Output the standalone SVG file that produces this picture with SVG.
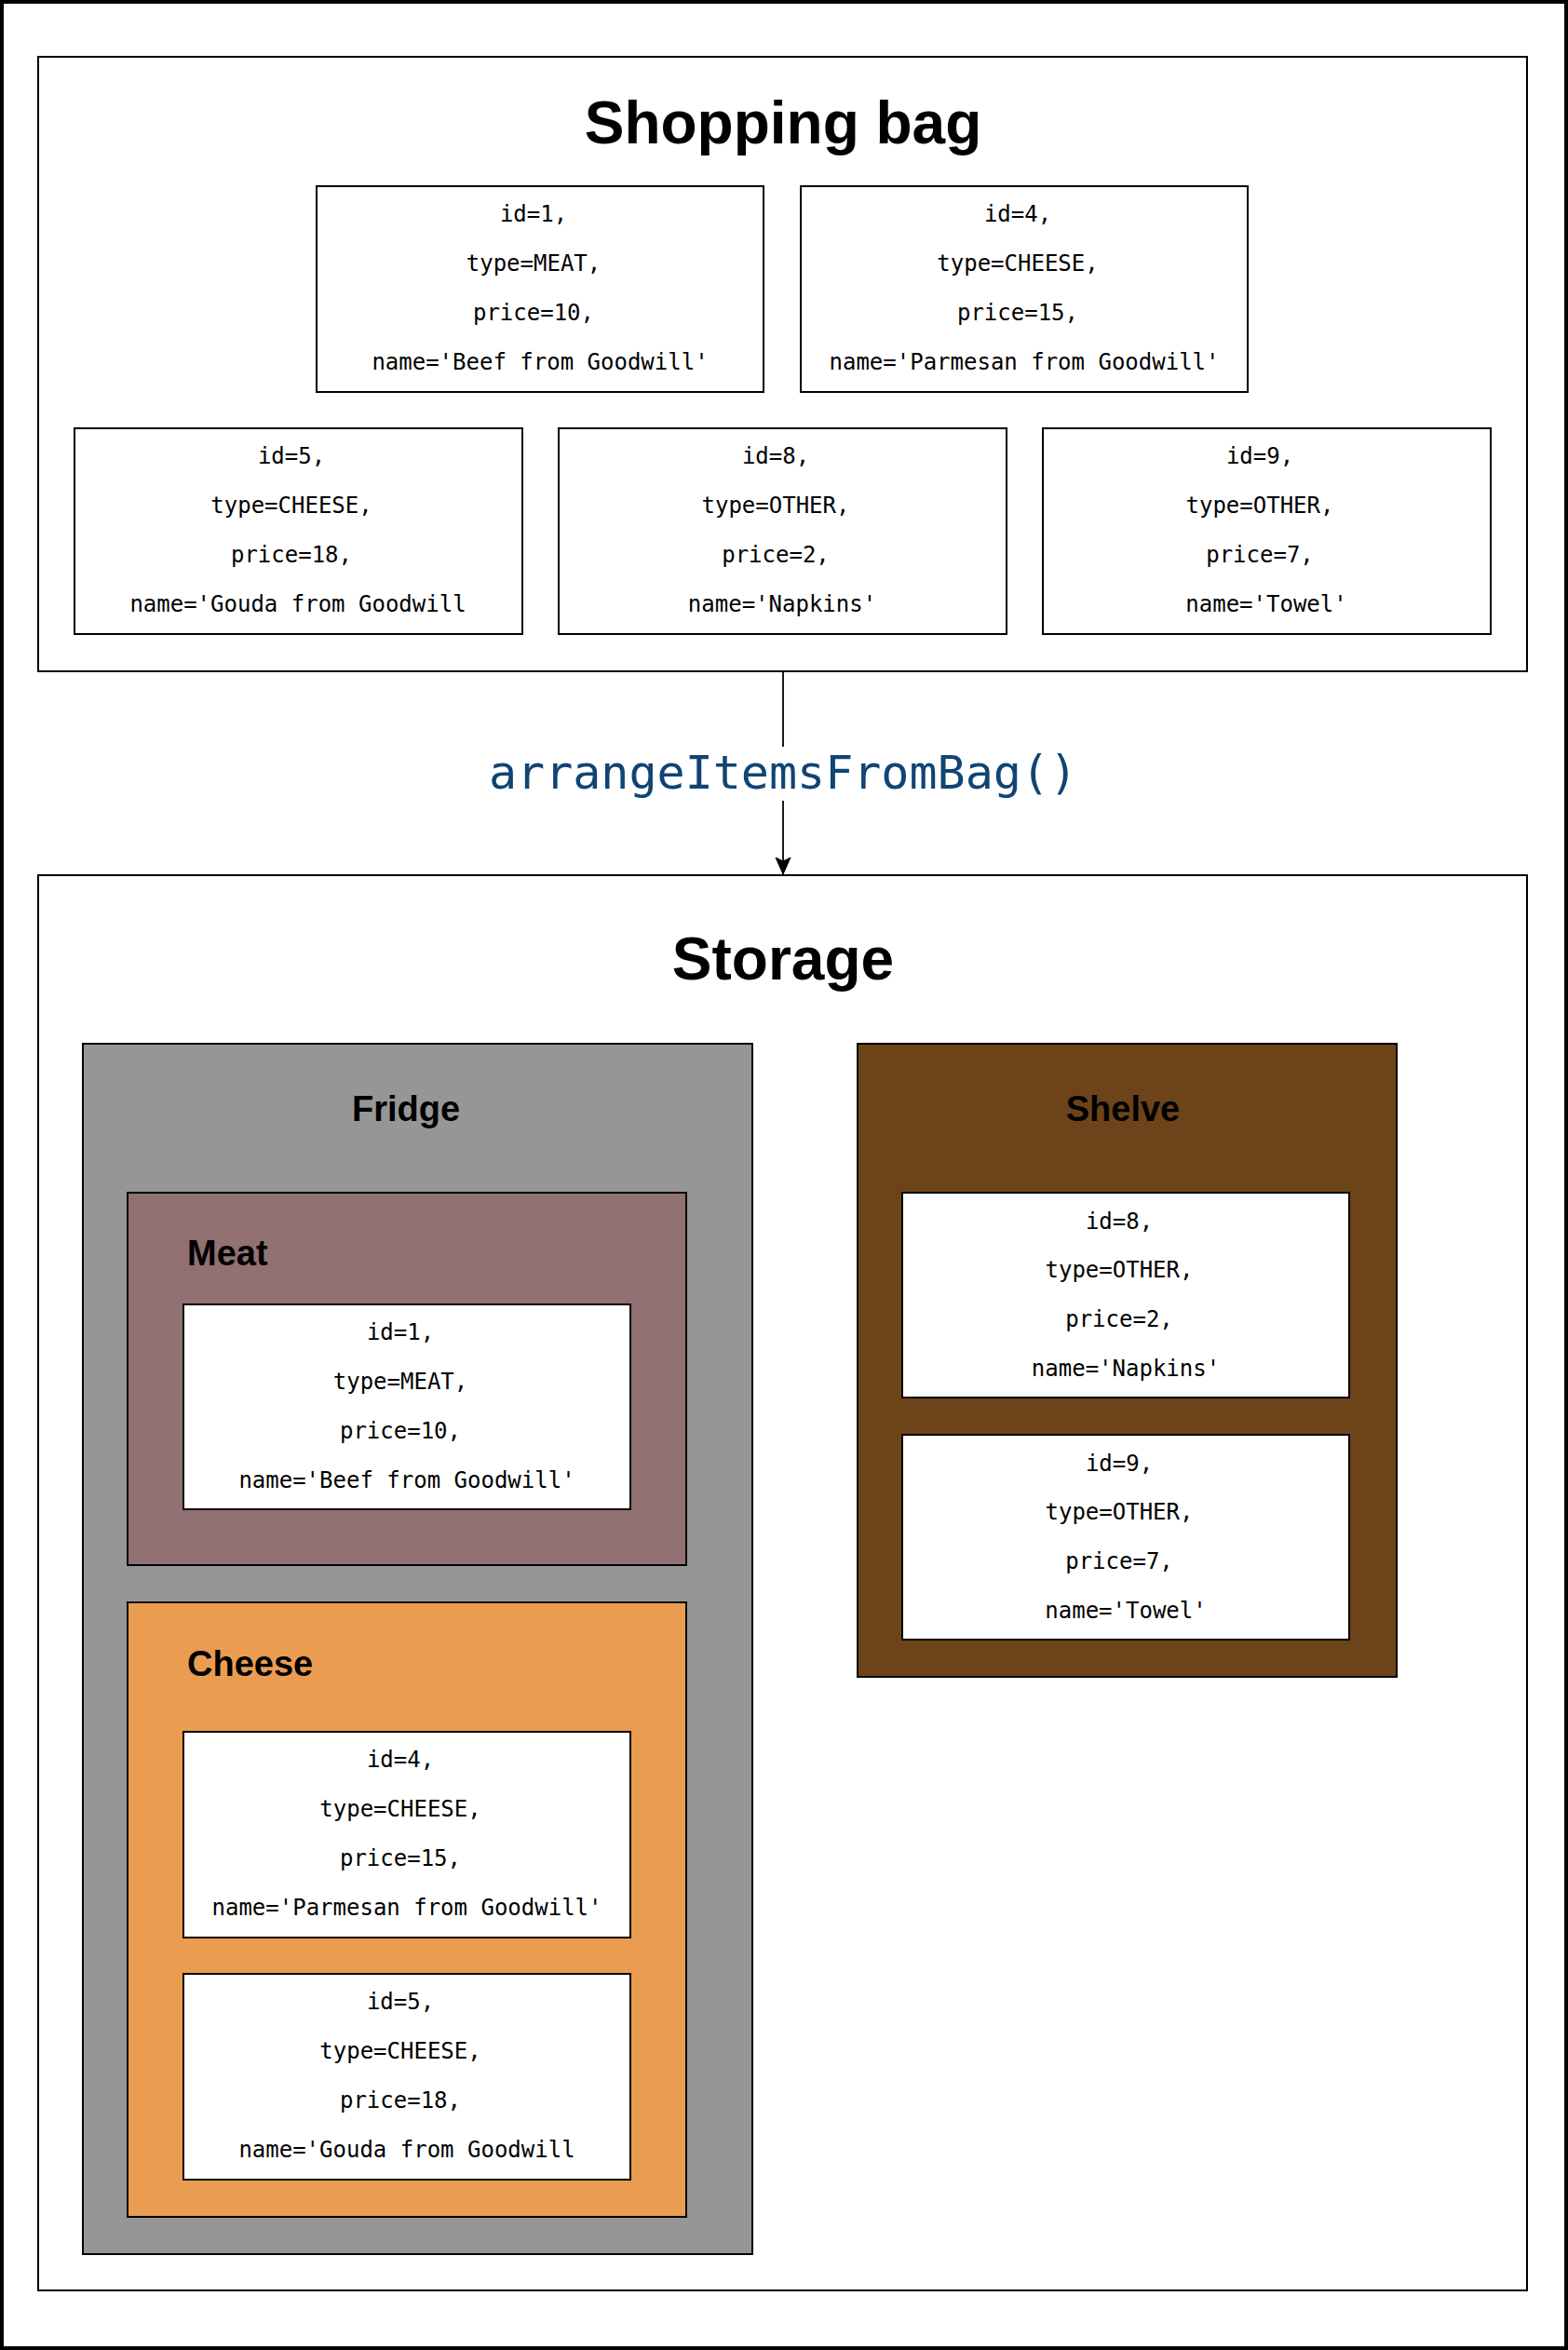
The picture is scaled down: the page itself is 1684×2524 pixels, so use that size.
<svg xmlns="http://www.w3.org/2000/svg" width="1684" height="2524" viewBox="0 0 1684 2524">
  <style>
    .frame { fill: #ffffff; stroke: #000000; stroke-width: 2; }
    .item { fill: #ffffff; stroke: #000000; stroke-width: 2; }
    .it { font-family: "DejaVu Sans Mono", "Liberation Mono", monospace; font-size: 24px; fill: #000000; text-anchor: middle; }
    .title { font-family: "Liberation Sans", Arial, Helvetica, sans-serif; font-weight: bold; font-size: 64px; fill: #000000; text-anchor: middle; }
    .sub { font-family: "Liberation Sans", Arial, Helvetica, sans-serif; font-weight: bold; font-size: 38px; fill: #000000; }
    .conn { fill: none; stroke: #000000; stroke-width: 1.8; }
    .lbl { font-family: "DejaVu Sans Mono", "Liberation Mono", monospace; font-size: 50px; fill: #104474; text-anchor: middle; }
  </style>
  <defs>
    <marker id="arrow" markerUnits="userSpaceOnUse" viewBox="0 0 20 20" refX="18" refY="10" markerWidth="20" markerHeight="20" orient="auto">
      <path d="M18,10 L0,2 L4,10 L0,18 Z" fill="#000000" stroke="#000000" stroke-width="1"/>
    </marker>
  </defs>

  <rect x="0" y="0" width="1684" height="2524" fill="#ffffff"/>
  <rect id="page-border" x="2" y="2" width="1680" height="2520" fill="none" stroke="#000000" stroke-width="4"/>

  <g id="shopping-bag">
    <rect class="frame" x="41" y="61" width="1599" height="660"/>
    <text class="title" x="841" y="154">Shopping bag</text>
  </g>

  <g id="bag-item-1">
    <rect class="item" x="340" y="200" width="480" height="221"/>
    <text class="it" x="573" y="238">id=1,</text>
    <text class="it" x="573" y="291">type=MEAT,</text>
    <text class="it" x="573" y="344">price=10,</text>
    <text class="it" x="580" y="397">name='Beef from Goodwill'</text>
  </g>
  <g id="bag-item-4">
    <rect class="item" x="860" y="200" width="480" height="221"/>
    <text class="it" x="1093" y="238">id=4,</text>
    <text class="it" x="1093" y="291">type=CHEESE,</text>
    <text class="it" x="1093" y="344">price=15,</text>
    <text class="it" x="1100" y="397">name='Parmesan from Goodwill'</text>
  </g>
  <g id="bag-item-5">
    <rect class="item" x="80" y="460" width="481" height="221"/>
    <text class="it" x="313" y="498">id=5,</text>
    <text class="it" x="313" y="551">type=CHEESE,</text>
    <text class="it" x="313" y="604">price=18,</text>
    <text class="it" x="320" y="657">name='Gouda from Goodwill</text>
  </g>
  <g id="bag-item-8">
    <rect class="item" x="600" y="460" width="481" height="221"/>
    <text class="it" x="833" y="498">id=8,</text>
    <text class="it" x="833" y="551">type=OTHER,</text>
    <text class="it" x="833" y="604">price=2,</text>
    <text class="it" x="840" y="657">name='Napkins'</text>
  </g>
  <g id="bag-item-9">
    <rect class="item" x="1120" y="460" width="481" height="221"/>
    <text class="it" x="1353" y="498">id=9,</text>
    <text class="it" x="1353" y="551">type=OTHER,</text>
    <text class="it" x="1353" y="604">price=7,</text>
    <text class="it" x="1360" y="657">name='Towel'</text>
  </g>

  <g id="storage">
    <rect class="frame" x="41" y="940" width="1599" height="1520"/>
    <text class="title" x="841" y="1052">Storage</text>
  </g>

  <g id="fridge">
    <rect x="89" y="1121" width="719" height="1300" fill="#969696" stroke="#000000" stroke-width="2"/>
    <text class="sub" x="436" y="1204" text-anchor="middle">Fridge</text>
  </g>

  <g id="meat">
    <rect x="137" y="1281" width="600" height="400" fill="#917171" stroke="#000000" stroke-width="2"/>
    <text class="sub" x="201" y="1359">Meat</text>
  </g>
  <g id="meat-item-1">
    <rect class="item" x="197" y="1401" width="480" height="220"/>
    <text class="it" x="430" y="1439">id=1,</text>
    <text class="it" x="430" y="1492">type=MEAT,</text>
    <text class="it" x="430" y="1545">price=10,</text>
    <text class="it" x="437" y="1598">name='Beef from Goodwill'</text>
  </g>

  <g id="cheese">
    <rect x="137" y="1721" width="600" height="660" fill="#EA9D51" stroke="#000000" stroke-width="2"/>
    <text class="sub" x="201" y="1800">Cheese</text>
  </g>
  <g id="cheese-item-4">
    <rect class="item" x="197" y="1860" width="480" height="221"/>
    <text class="it" x="430" y="1898">id=4,</text>
    <text class="it" x="430" y="1951">type=CHEESE,</text>
    <text class="it" x="430" y="2004">price=15,</text>
    <text class="it" x="437" y="2057">name='Parmesan from Goodwill'</text>
  </g>
  <g id="cheese-item-5">
    <rect class="item" x="197" y="2120" width="480" height="221"/>
    <text class="it" x="430" y="2158">id=5,</text>
    <text class="it" x="430" y="2211">type=CHEESE,</text>
    <text class="it" x="430" y="2264">price=18,</text>
    <text class="it" x="437" y="2317">name='Gouda from Goodwill</text>
  </g>

  <g id="shelve">
    <rect x="921" y="1121" width="579" height="680" fill="#6D441A" stroke="#000000" stroke-width="2"/>
    <text class="sub" x="1206" y="1204" text-anchor="middle">Shelve</text>
  </g>
  <g id="shelve-item-8">
    <rect class="item" x="969" y="1281" width="480" height="220"/>
    <text class="it" x="1202" y="1320">id=8,</text>
    <text class="it" x="1202" y="1372">type=OTHER,</text>
    <text class="it" x="1202" y="1425">price=2,</text>
    <text class="it" x="1209" y="1478">name='Napkins'</text>
  </g>
  <g id="shelve-item-9">
    <rect class="item" x="969" y="1541" width="480" height="220"/>
    <text class="it" x="1202" y="1580">id=9,</text>
    <text class="it" x="1202" y="1632">type=OTHER,</text>
    <text class="it" x="1202" y="1685">price=7,</text>
    <text class="it" x="1209" y="1738">name='Towel'</text>
  </g>

  <g id="connectors">
    <path class="conn" d="M841,722 L841,939" marker-end="url(#arrow)"/>
    <rect x="522" y="802" width="638" height="58" fill="#ffffff"/>
    <text class="lbl" x="841" y="847">arrangeItemsFromBag()</text>
  </g>
</svg>
